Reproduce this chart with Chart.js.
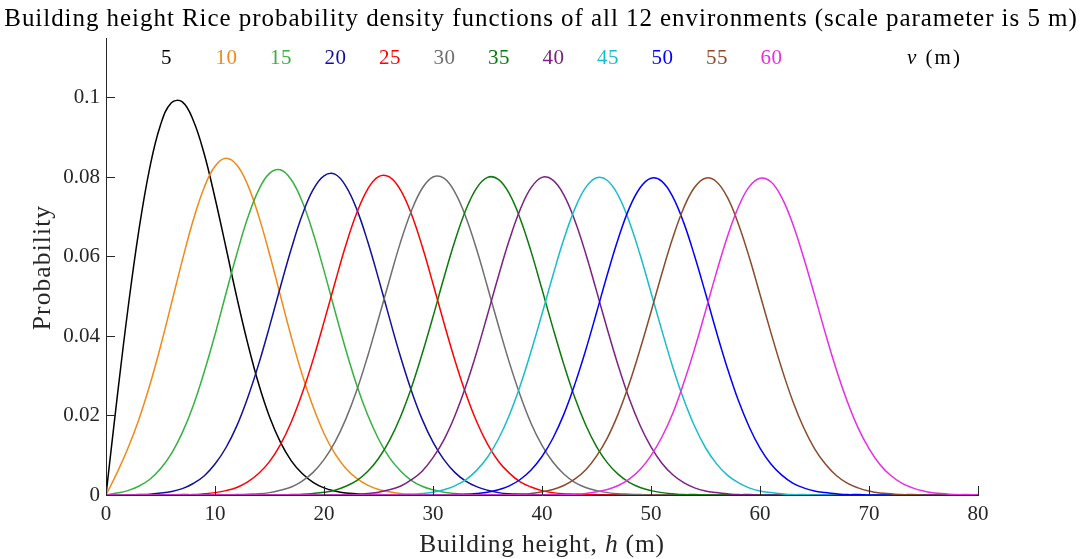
<!DOCTYPE html>
<html>
<head>
<meta charset="utf-8">
<title>Rice PDFs</title>
<script src="https://cdn.jsdelivr.net/npm/chart.js"></script>
<style>
  html, body { margin: 0; padding: 0; background: #fff; }
  #wrap { width: 1082px; height: 559px; }
</style>
</head>
<body>
<div id="wrap"><canvas id="riceChart"></canvas></div>
<script>
// building heights (m), 1 m steps
const heights = [
  0, 1, 2, 3, 4, 5, 6, 7, 8, 9,
  10, 11, 12, 13, 14, 15, 16, 17, 18, 19,
  20, 21, 22, 23, 24, 25, 26, 27, 28, 29,
  30, 31, 32, 33, 34, 35, 36, 37, 38, 39,
  40, 41, 42, 43, 44, 45, 46, 47, 48, 49,
  50, 51, 52, 53, 54, 55, 56, 57, 58, 59,
  60, 61, 62, 63, 64, 65, 66, 67, 68, 69,
  70, 71, 72, 73, 74, 75, 76, 77, 78, 79,
  80
];

const nuValues = [5, 10, 15, 20, 25, 30, 35, 40, 45, 50, 55, 60];
const nuColors = ['#000000', '#EF8A17', '#35B23F', '#10109A', '#FF0000', '#6E6E6E',
                  '#0A7A0A', '#7B2183', '#19BCCC', '#0000FF', '#8B4A2B', '#E52EE5'];

const yTicks = [0, 0.02, 0.04, 0.06, 0.08, 0.1];
const xTicks = [0, 10, 20, 30, 40, 50, 60, 70, 80];

const pdf5 = [
  0, 0.0240, 0.0466, 0.0664, 0.0822, 0.0932, 0.0988, 0.0990, 0.0944, 0.0860,
  0.0748, 0.0624, 0.0498, 0.0382, 0.0280, 0.0197, 0.0133, 0.0086, 0.0054, 0.0032,
  0.0018, 0.0010, 0.0005, 0.0003, 0.0001, 0.0001, 0, 0, 0, 0,
  0, 0, 0, 0, 0, 0, 0, 0, 0, 0,
  0, 0, 0, 0, 0, 0, 0, 0, 0, 0,
  0, 0, 0, 0, 0, 0, 0, 0, 0, 0,
  0, 0, 0, 0, 0, 0, 0, 0, 0, 0,
  0, 0, 0, 0, 0, 0, 0, 0, 0, 0,
  0
];
const pdf10 = [
  0, 0.0055, 0.0117, 0.0189, 0.0275, 0.0374, 0.0482, 0.0591, 0.0692, 0.0774,
  0.0828, 0.0848, 0.0831, 0.0781, 0.0703, 0.0607, 0.0502, 0.0398, 0.0303, 0.0222,
  0.0155, 0.0104, 0.0067, 0.0042, 0.0025, 0.0014, 0.0008, 0.0004, 0.0002, 0.0001,
  0, 0, 0, 0, 0, 0, 0, 0, 0, 0,
  0, 0, 0, 0, 0, 0, 0, 0, 0, 0,
  0, 0, 0, 0, 0, 0, 0, 0, 0, 0,
  0, 0, 0, 0, 0, 0, 0, 0, 0, 0,
  0, 0, 0, 0, 0, 0, 0, 0, 0, 0,
  0
];
const pdf15 = [
  0, 0.0005, 0.0011, 0.0022, 0.0039, 0.0066, 0.0104, 0.0157, 0.0225, 0.0309,
  0.0404, 0.0507, 0.0607, 0.0698, 0.0768, 0.0810, 0.0819, 0.0794, 0.0739, 0.0660,
  0.0565, 0.0464, 0.0366, 0.0277, 0.0202, 0.0141, 0.0094, 0.0061, 0.0037, 0.0022,
  0.0013, 0.0007, 0.0004, 0.0002, 0.0001, 0, 0, 0, 0, 0,
  0, 0, 0, 0, 0, 0, 0, 0, 0, 0,
  0, 0, 0, 0, 0, 0, 0, 0, 0, 0,
  0, 0, 0, 0, 0, 0, 0, 0, 0, 0,
  0, 0, 0, 0, 0, 0, 0, 0, 0, 0,
  0
];
const pdf20 = [
  0, 0, 0, 0.0001, 0.0002, 0.0005, 0.0009, 0.0016, 0.0029, 0.0048,
  0.0078, 0.0119, 0.0174, 0.0245, 0.0329, 0.0424, 0.0524, 0.0620, 0.0705, 0.0769,
  0.0804, 0.0808, 0.0778, 0.0720, 0.0639, 0.0545, 0.0446, 0.0350, 0.0264, 0.0191,
  0.0133, 0.0089, 0.0057, 0.0035, 0.0021, 0.0012, 0.0006, 0.0003, 0.0002, 0.0001,
  0, 0, 0, 0, 0, 0, 0, 0, 0, 0,
  0, 0, 0, 0, 0, 0, 0, 0, 0, 0,
  0, 0, 0, 0, 0, 0, 0, 0, 0, 0,
  0, 0, 0, 0, 0, 0, 0, 0, 0, 0,
  0
];
const pdf25 = [
  0, 0, 0, 0, 0, 0, 0, 0.0001, 0.0001, 0.0003,
  0.0006, 0.0011, 0.0019, 0.0033, 0.0054, 0.0084, 0.0127, 0.0184, 0.0256, 0.0341,
  0.0436, 0.0534, 0.0629, 0.0710, 0.0770, 0.0802, 0.0801, 0.0769, 0.0709, 0.0627,
  0.0532, 0.0434, 0.0340, 0.0256, 0.0185, 0.0128, 0.0085, 0.0055, 0.0033, 0.0020,
  0.0011, 0.0006, 0.0003, 0.0002, 0.0001, 0, 0, 0, 0, 0,
  0, 0, 0, 0, 0, 0, 0, 0, 0, 0,
  0, 0, 0, 0, 0, 0, 0, 0, 0, 0,
  0, 0, 0, 0, 0, 0, 0, 0, 0, 0,
  0
];
const pdf30 = [
  0, 0, 0, 0, 0, 0, 0, 0, 0, 0,
  0, 0, 0.0001, 0.0002, 0.0003, 0.0006, 0.0012, 0.0020, 0.0035, 0.0057,
  0.0089, 0.0133, 0.0191, 0.0263, 0.0349, 0.0444, 0.0541, 0.0635, 0.0714, 0.0772,
  0.0801, 0.0798, 0.0763, 0.0701, 0.0619, 0.0524, 0.0427, 0.0334, 0.0251, 0.0180,
  0.0125, 0.0083, 0.0053, 0.0032, 0.0019, 0.0011, 0.0006, 0.0003, 0.0002, 0.0001,
  0, 0, 0, 0, 0, 0, 0, 0, 0, 0,
  0, 0, 0, 0, 0, 0, 0, 0, 0, 0,
  0, 0, 0, 0, 0, 0, 0, 0, 0, 0,
  0
];
const pdf35 = [
  0, 0, 0, 0, 0, 0, 0, 0, 0, 0,
  0, 0, 0, 0, 0, 0, 0, 0.0001, 0.0002, 0.0004,
  0.0007, 0.0012, 0.0022, 0.0036, 0.0059, 0.0092, 0.0137, 0.0196, 0.0269, 0.0355,
  0.0449, 0.0547, 0.0639, 0.0717, 0.0773, 0.0800, 0.0795, 0.0759, 0.0696, 0.0613,
  0.0518, 0.0421, 0.0329, 0.0246, 0.0177, 0.0122, 0.0081, 0.0052, 0.0032, 0.0019,
  0.0011, 0.0006, 0.0003, 0.0001, 0.0001, 0, 0, 0, 0, 0,
  0, 0, 0, 0, 0, 0, 0, 0, 0, 0,
  0, 0, 0, 0, 0, 0, 0, 0, 0, 0,
  0
];
const pdf40 = [
  0, 0, 0, 0, 0, 0, 0, 0, 0, 0,
  0, 0, 0, 0, 0, 0, 0, 0, 0, 0,
  0, 0, 0.0001, 0.0002, 0.0004, 0.0007, 0.0013, 0.0022, 0.0038, 0.0060,
  0.0094, 0.0139, 0.0199, 0.0273, 0.0359, 0.0454, 0.0551, 0.0642, 0.0719, 0.0774,
  0.0800, 0.0793, 0.0756, 0.0692, 0.0609, 0.0514, 0.0417, 0.0325, 0.0243, 0.0175,
  0.0121, 0.0080, 0.0051, 0.0031, 0.0018, 0.0010, 0.0006, 0.0003, 0.0001, 0.0001,
  0, 0, 0, 0, 0, 0, 0, 0, 0, 0,
  0, 0, 0, 0, 0, 0, 0, 0, 0, 0,
  0
];
const pdf45 = [
  0, 0, 0, 0, 0, 0, 0, 0, 0, 0,
  0, 0, 0, 0, 0, 0, 0, 0, 0, 0,
  0, 0, 0, 0, 0, 0, 0, 0.0001, 0.0002, 0.0004,
  0.0007, 0.0013, 0.0023, 0.0038, 0.0062, 0.0095, 0.0141, 0.0201, 0.0275, 0.0362,
  0.0456, 0.0553, 0.0644, 0.0720, 0.0774, 0.0799, 0.0792, 0.0754, 0.0689, 0.0605,
  0.0510, 0.0414, 0.0322, 0.0241, 0.0173, 0.0119, 0.0079, 0.0050, 0.0031, 0.0018,
  0.0010, 0.0006, 0.0003, 0.0001, 0.0001, 0, 0, 0, 0, 0,
  0, 0, 0, 0, 0, 0, 0, 0, 0, 0,
  0
];
const pdf50 = [
  0, 0, 0, 0, 0, 0, 0, 0, 0, 0,
  0, 0, 0, 0, 0, 0, 0, 0, 0, 0,
  0, 0, 0, 0, 0, 0, 0, 0, 0, 0,
  0, 0, 0.0001, 0.0002, 0.0004, 0.0007, 0.0013, 0.0023, 0.0039, 0.0063,
  0.0097, 0.0143, 0.0203, 0.0278, 0.0364, 0.0459, 0.0556, 0.0646, 0.0722, 0.0774,
  0.0798, 0.0790, 0.0751, 0.0686, 0.0602, 0.0508, 0.0411, 0.0320, 0.0239, 0.0172,
  0.0118, 0.0078, 0.0050, 0.0030, 0.0018, 0.0010, 0.0006, 0.0003, 0.0001, 0.0001,
  0, 0, 0, 0, 0, 0, 0, 0, 0, 0,
  0
];
const pdf55 = [
  0, 0, 0, 0, 0, 0, 0, 0, 0, 0,
  0, 0, 0, 0, 0, 0, 0, 0, 0, 0,
  0, 0, 0, 0, 0, 0, 0, 0, 0, 0,
  0, 0, 0, 0, 0, 0, 0, 0.0001, 0.0002, 0.0004,
  0.0008, 0.0014, 0.0024, 0.0040, 0.0063, 0.0098, 0.0144, 0.0205, 0.0280, 0.0367,
  0.0461, 0.0558, 0.0648, 0.0723, 0.0775, 0.0798, 0.0789, 0.0750, 0.0684, 0.0600,
  0.0505, 0.0409, 0.0318, 0.0237, 0.0170, 0.0117, 0.0078, 0.0049, 0.0030, 0.0018,
  0.0010, 0.0005, 0.0003, 0.0001, 0.0001, 0, 0, 0, 0, 0,
  0
];
const pdf60 = [
  0, 0, 0, 0, 0, 0, 0, 0, 0, 0,
  0, 0, 0, 0, 0, 0, 0, 0, 0, 0,
  0, 0, 0, 0, 0, 0, 0, 0, 0, 0,
  0, 0, 0, 0, 0, 0, 0, 0, 0, 0,
  0, 0, 0.0001, 0.0002, 0.0004, 0.0008, 0.0014, 0.0024, 0.0040, 0.0064,
  0.0099, 0.0146, 0.0206, 0.0282, 0.0368, 0.0463, 0.0560, 0.0650, 0.0724, 0.0776,
  0.0798, 0.0789, 0.0749, 0.0683, 0.0598, 0.0504, 0.0407, 0.0316, 0.0236, 0.0169,
  0.0117, 0.0077, 0.0049, 0.0030, 0.0018, 0.0010, 0.0005, 0.0003, 0.0001, 0.0001,
  0
];

const pdfs = [pdf5, pdf10, pdf15, pdf20, pdf25, pdf30, pdf35, pdf40, pdf45, pdf50, pdf55, pdf60];

const chartTitle = 'Building height Rice probability density functions of all 12 environments (scale parameter is 5 m)';

const SERIF = '"Liberation Serif", "Times New Roman", serif';
const AXIS_COLOR = '#262626';

// small MATLAB-style tick marks pointing into the plot area
const innerTicks = {
  id: 'innerTicks',
  afterDatasetsDraw(chart) {
    const {ctx, chartArea, scales} = chart;
    const align = p => Math.round(p - 0.5) + 0.5;
    ctx.save();
    ctx.strokeStyle = AXIS_COLOR;
    ctx.lineWidth = 1;
    ctx.beginPath();
    scales.x.ticks.forEach(t => {
      const px = align(scales.x.getPixelForValue(t.value));
      ctx.moveTo(px, chartArea.bottom);
      ctx.lineTo(px, chartArea.bottom - 9);
    });
    scales.y.ticks.forEach(t => {
      const py = align(scales.y.getPixelForValue(t.value));
      ctx.moveTo(chartArea.left, py);
      ctx.lineTo(chartArea.left + 9, py);
    });
    ctx.stroke();
    ctx.restore();
  }
};

// draws a run of text pieces, some of them italic
function drawMixed(ctx, pieces, x, y, size, align) {
  const fontFor = it => (it ? 'italic ' : '') + size + 'px ' + SERIF;
  let total = 0;
  pieces.forEach(([txt, it]) => { ctx.font = fontFor(it); total += ctx.measureText(txt).width; });
  let cx = align === 'center' ? x - total / 2 : x;
  ctx.textAlign = 'left';
  pieces.forEach(([txt, it]) => {
    ctx.font = fontFor(it);
    ctx.fillText(txt, cx, y);
    cx += ctx.measureText(txt).width;
  });
}

// title, axis titles and the one-row legend of coloured nu values
const textLayer = {
  id: 'textLayer',
  afterDraw(chart) {
    const {ctx, chartArea, width} = chart;
    ctx.save();
    ctx.textBaseline = 'alphabetic';

    // title
    ctx.fillStyle = '#000';
    ctx.letterSpacing = '0.95px';
    ctx.font = '25px ' + SERIF;
    ctx.textAlign = 'center';
    ctx.fillText(chartTitle, width / 2, 26);

    // legend inside the axes
    const baseY = chartArea.top + 26;
    ctx.letterSpacing = '0.5px';
    ctx.textAlign = 'left';
    ctx.font = '21px ' + SERIF;
    nuValues.forEach((nu, i) => {
      ctx.fillStyle = nuColors[i];
      ctx.fillText(String(nu), chartArea.left + 55 + i * 54.5, baseY);
    });
    ctx.fillStyle = '#000';
    ctx.letterSpacing = '2px';
    drawMixed(ctx, [['\u03BD', true], [' (m)', false]], chartArea.left + 801, baseY, 21, 'left');

    // x-axis title
    ctx.fillStyle = AXIS_COLOR;
    ctx.letterSpacing = '0.8px';
    drawMixed(ctx, [['Building height, ', false], ['h', true], [' (m)', false]],
      (chartArea.left + chartArea.right) / 2, chartArea.bottom + 57, 25.5, 'center');

    // y-axis title, rotated
    ctx.letterSpacing = '1.1px';
    ctx.translate(50, (chartArea.top + chartArea.bottom) / 2 + 1);
    ctx.rotate(-Math.PI / 2);
    ctx.font = '25.5px ' + SERIF;
    ctx.textAlign = 'center';
    ctx.fillText('Probability', 0, 0);
    ctx.restore();
  }
};

const datasets = pdfs.map((vals, i) => ({
  label: String(nuValues[i]),
  data: heights.map((h, k) => ({x: h, y: vals[k]})),
  borderColor: nuColors[i],
  backgroundColor: nuColors[i],
  borderWidth: 1.5,
  pointRadius: 0,
  tension: 0.4,
  fill: false,
  order: nuValues.length - i
}));

new Chart(document.getElementById('riceChart'), {
  type: 'line',
  data: { datasets },
  options: {
    responsive: true,
    maintainAspectRatio: false,
    animation: false,
    devicePixelRatio: 1,
    layout: { padding: { left: 0, right: 104, top: 38, bottom: 0 } },
    plugins: {
      legend: { display: false },
      tooltip: { enabled: false },
      title: { display: false }
    },
    scales: {
      x: {
        type: 'linear',
        min: 0,
        max: 80,
        afterFit: s => { s.height = 64; },
        afterBuildTicks: s => { s.ticks = xTicks.map(v => ({value: v})); },
        grid: { display: false, drawTicks: false },
        border: { display: true, color: AXIS_COLOR, width: 1 },
        ticks: { color: AXIS_COLOR, padding: 7, maxRotation: 0, font: { family: SERIF, size: 21 } },
        title: { display: false }
      },
      y: {
        min: 0,
        max: 0.1151,
        afterFit: s => { s.width = 106; },
        afterBuildTicks: s => { s.ticks = yTicks.map(v => ({value: v})); },
        grid: { display: false, drawTicks: false },
        border: { display: true, color: AXIS_COLOR, width: 1 },
        ticks: {
          color: AXIS_COLOR,
          padding: 6,
          font: { family: SERIF, size: 21 },
          callback: v => String(parseFloat(v.toFixed(2)))
        },
        title: { display: false }
      }
    }
  },
  plugins: [innerTicks, textLayer]
});
</script>
</body>
</html>
